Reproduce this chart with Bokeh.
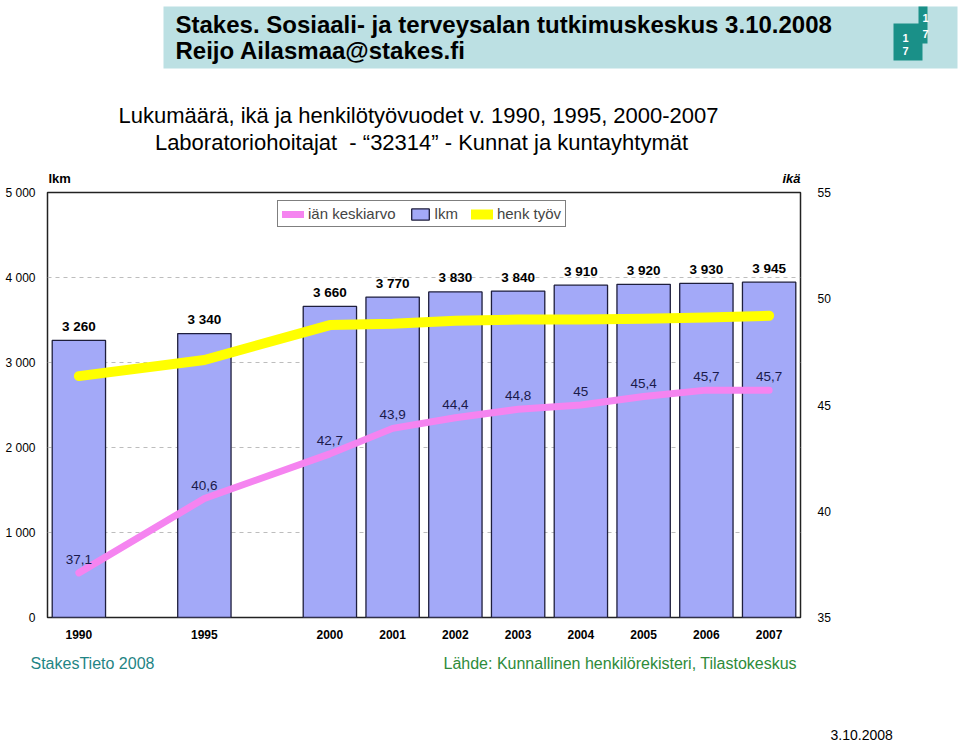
from bokeh.plotting import figure
from bokeh.layouts import column
from bokeh.models import (ColumnDataSource, FactorRange, Range1d, LinearAxis, LabelSet,
                          Legend, LegendItem, FixedTicker)
from bokeh.core.properties import value
from bokeh.embed import file_html
from bokeh.resources import INLINE

# ---------------- data ----------------
years = ["1990", "1995", "2000", "2001", "2002", "2003", "2004", "2005", "2006", "2007"]
x_slots = ["1990", " ", "1995", "  ", "2000", "2001", "2002", "2003", "2004", "2005", "2006", "2007"]
lkm = [3260, 3340, 3660, 3770, 3830, 3840, 3910, 3920, 3930, 3945]
ika = [37.1, 40.6, 42.7, 43.9, 44.4, 44.8, 45.0, 45.4, 45.7, 45.7]
henk_tyov = [2840, 3030, 3440, 3455, 3490, 3505, 3505, 3515, 3530, 3550]
left_ticks = [0, 1000, 2000, 3000, 4000, 5000]
right_ticks = [35, 40, 45, 50, 55]

FONT = "Liberation Sans"
W = 960


def canvas_fig(h):
    f = figure(width=W, height=h, frame_width=W, frame_height=h,
               x_range=Range1d(0, W), y_range=Range1d(h, 0),
               output_backend="svg", toolbar_location=None, min_border=0,
               min_border_left=0, min_border_right=0, min_border_top=0, min_border_bottom=0,
               x_axis_location=None, y_axis_location=None, frame_align=False)
    f.grid.visible = False
    f.outline_line_color = None
    f.background_fill_color = "white"
    f.border_fill_color = "white"
    return f


def txt(f, x, y, s, size="14px", style="normal", color="black", align="left"):
    f.text(x=[x], y=[y], text=[s], text_font=value(FONT), text_font_size=value(size),
           text_font_style=value(style), text_color=value(color), text_align=value(align),
           text_baseline=value("middle"))


# ---------------- top: header and titles ----------------
H_TOP = 185
top = canvas_fig(H_TOP)
top.quad(left=[163], right=[957], top=[6], bottom=[68], fill_color="#bce0e3", line_color=None)
top.quad(left=[893, 918], right=[922, 927], top=[23, 6], bottom=[60, 43],
         fill_color="#1a9088", line_color=None)
txt(top, 905, 37, "1", size="11px", style="bold", color="white", align="center")
txt(top, 905, 50, "7", size="11px", style="bold", color="white", align="center")
txt(top, 925, 17, "1", size="11px", style="bold", color="white", align="center")
txt(top, 925, 33, "7", size="11px", style="bold", color="white", align="center")
txt(top, 175, 24, "Stakes. Sosiaali- ja terveysalan tutkimuskeskus 3.10.2008",
    size="24px", style="bold")
txt(top, 175, 50, "Reijo Ailasmaa@stakes.fi", size="24px", style="bold")
txt(top, 418, 115, "Lukumäärä, ikä ja henkilötyövuodet v. 1990, 1995, 2000-2007",
    size="22px", align="center")
txt(top, 421, 142, "Laboratoriohoitajat \u00a0- \u201c32314\u201d - Kunnat ja kuntayhtymät",
    size="22px", align="center")
txt(top, 48, 178, "lkm", size="13px", style="bold")
txt(top, 800, 178, "ikä", size="13px", style="bold italic", align="right")

# ---------------- chart ----------------
src = ColumnDataSource(dict(
    year=years, lkm=lkm, ika=ika, henk=henk_tyov,
    lkm_lbl=[f"{v:,}".replace(",", " ") for v in lkm],
    ika_lbl=[f"{v:g}".replace(".", ",") for v in ika],
))

p = figure(width=W, height=460, x_range=FactorRange(*x_slots), y_range=Range1d(0, 5000),
           output_backend="svg", toolbar_location=None, frame_align=False,
           min_border_left=47, min_border_right=160, min_border_top=7, min_border_bottom=28)
p.extra_y_ranges = {"age": Range1d(35, 55)}
p.outline_line_color = "#222222"
p.outline_line_width = 1.5
p.background_fill_color = "white"
p.border_fill_color = "white"

p.yaxis.ticker = FixedTicker(ticks=left_ticks)
p.yaxis.major_label_overrides = {t: f"{t:,}".replace(",", " ") for t in left_ticks}
ra = LinearAxis(y_range_name="age", ticker=FixedTicker(ticks=right_ticks))
p.add_layout(ra, "right")
for ax in [p.yaxis[0], ra, p.xaxis[0]]:
    ax.axis_line_color = None
    ax.major_tick_line_color = None
    ax.minor_tick_line_color = None
    ax.major_label_text_font = FONT
    ax.major_label_text_font_size = "12px"
    ax.major_label_text_color = "black"
p.yaxis[0].major_label_standoff = 6
ra.major_label_standoff = 11
p.xaxis[0].major_label_standoff = 4
p.xaxis[0].major_label_text_font_style = "bold"

p.xgrid.visible = False
p.ygrid.ticker = FixedTicker(ticks=[1000, 2000, 3000, 4000])
p.ygrid.grid_line_color = "#bdbdbd"
p.ygrid.grid_line_dash = "4 4"

bars = p.vbar(x="year", top="lkm", width=0.85, source=src, fill_color="#a3a9f8",
              line_color="#1e1e3c", line_width=1.3)
yel = p.line(x="year", y="henk", source=src, line_color="#ffff00", line_width=10,
             line_cap="round", line_join="round")
pink = p.line(x="year", y="ika", source=src, y_range_name="age", line_color="#f584f0",
              line_width=7, line_cap="round", line_join="round")

p.add_layout(LabelSet(x="year", y="lkm", text="lkm_lbl", source=src, text_align="center",
                      text_baseline="middle", y_offset=14, text_font=value(FONT),
                      text_font_size=value("13.5px"), text_font_style=value("bold"),
                      text_color=value("black")))
p.add_layout(LabelSet(x="year", y="ika", text="ika_lbl", source=src, y_range_name="age",
                      text_align="center", text_baseline="middle", y_offset=13.5,
                      text_font=value(FONT), text_font_size=value("13.5px"),
                      text_color=value("#1a1a4a")))

legend = Legend(items=[LegendItem(label="iän keskiarvo", renderers=[pink]),
                       LegendItem(label="lkm", renderers=[bars]),
                       LegendItem(label="henk työv", renderers=[yel])],
                location=(230, 390), orientation="horizontal",
                border_line_color="black", border_line_width=1.5,
                label_text_font=FONT, label_text_font_size="15px",
                glyph_width=22, glyph_height=14, label_height=14, spacing=13,
                padding=4, margin=0, label_standoff=4)
p.add_layout(legend)

# ---------------- bottom: footer texts ----------------
H_BOT = 742 - H_TOP - 460
bot = canvas_fig(H_BOT)
txt(bot, 30, 18, "StakesTieto 2008", size="16px", color="#1f8585")
txt(bot, 443, 18, "Lähde: Kunnallinen henkilörekisteri, Tilastokeskus", size="16px",
    color="#2e8b3a")
txt(bot, 830, 89, "3.10.2008", size="14px")

layout = column(top, p, bot, spacing=0)
open("out.html", "w").write(file_html(layout, INLINE))
